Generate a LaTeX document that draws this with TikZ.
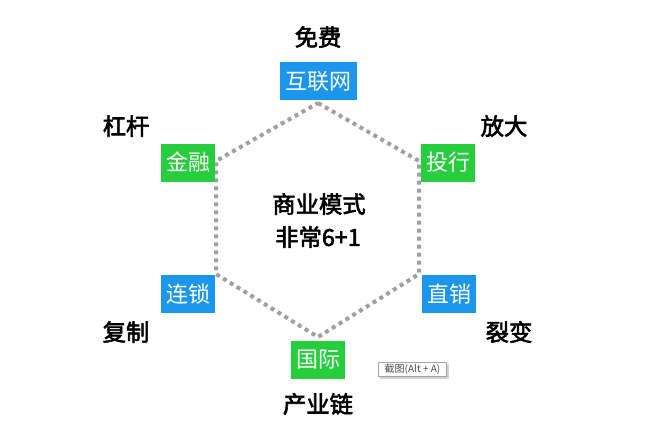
\documentclass[tikz,border=0pt]{standalone}
\usepackage{fontspec}
\setmainfont{Noto Sans CJK SC}
\newfontfamily\cjkb{Noto Sans CJK SC}[FakeBold=2.5]
\definecolor{boxblue}{RGB}{28,150,234}
\definecolor{boxgreen}{RGB}{38,206,62}
\definecolor{dotgray}{RGB}{160,160,160}
\tikzset{
  tag/.style={text=white, font=\fontsize{16.5}{16.5}\selectfont, inner sep=0pt, minimum height=28.5pt, anchor=center},
  bluetag/.style={tag, fill=boxblue},
  greentag/.style={tag, fill=boxgreen},
  lbl/.style={font=\cjkb\fontsize{17.5}{17.5}\selectfont, inner sep=0pt, text=black},
  hexline/.style={draw=dotgray, line width=3pt, dash pattern=on 3pt off 3pt}
}
\begin{document}
\begin{tikzpicture}[x=0.75pt, y=-0.75pt]
\useasboundingbox (0,0) rectangle (670,437);
\fill[white] (0,0) rectangle (670,437);
% hexagon
\coordinate (h1) at (318,103);
\coordinate (h2) at (419,161);
\coordinate (h3) at (419,274);
\coordinate (h4) at (318,337);
\coordinate (h5) at (216,274);
\coordinate (h6) at (216,161);
\draw[hexline] (h1) -- (h2) -- (h3) -- (h4) -- (h5) -- (h6) -- cycle;
% boxes
\node[bluetag, minimum width=57.75pt] (hlw) at (318.5,81) {互联网};
\node[greentag, minimum width=40.5pt] (jr) at (188,162.5) {金融};
\node[greentag, minimum width=40.5pt] (th) at (448,162.5) {投行};
\node[bluetag, minimum width=40.5pt] (ls) at (188,294) {连锁};
\node[bluetag, minimum width=40.5pt] (zx) at (449,294) {直销};
\node[greentag, minimum width=40.5pt] (gj) at (318,359.5) {国际};
% labels
\node[lbl] (mf) at (318,37) {免费};
\node[lbl] (gg) at (126,126) {杠杆};
\node[lbl] (fd) at (504,126) {放大};
\node[lbl] (fz) at (126,332) {复制};
\node[lbl] (lb) at (509,332) {裂变};
\node[lbl] (cyl) at (318,404) {产业链};
\node[lbl] (c1) at (319,204) {商业模式};
\node[lbl] (c2) at (318,237) {非常6+1};
% tooltip
\fill[gray!35] (380,364) rectangle (448.5,378.5);
\node[draw=gray!70, fill=white, line width=0.5pt, inner sep=0pt, minimum width=51pt, minimum height=10.5pt,
  text=black!70, font=\fontsize{7.5}{7.5}\selectfont] (tip) at (412.5,369.5) {截图(Alt + A)};
\end{tikzpicture}
\end{document}
